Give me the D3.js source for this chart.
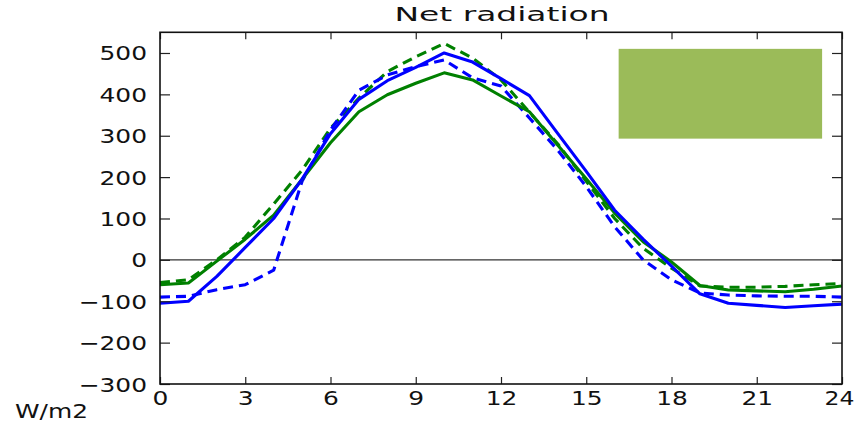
<!DOCTYPE html>
<html><head><meta charset="utf-8">
<script src="https://cdn.jsdelivr.net/npm/d3@7"></script>
<style>body{margin:0;background:#fff}svg{display:block}text{font-family:"DejaVu Sans",sans-serif;fill:#111}</style>
</head><body><svg id="c" width="854" height="422"></svg>
<script>
const hours = d3.range(0, 25);
const blueSolid  = [-105,-100,-40,30,100,195,305,388,433,465,500,478,438,397,305,214,120,50,-15,-82,-105,-110,-115,-111,-107];
const blueDashed = [-90,-88,-72,-60,-25,190,314,410,447,467,483,440,420,343,265,177,80,0,-48,-80,-85,-87,-88,-88,-90];
const greenSolid = [-60,-56,-3,50,108,195,283,358,399,427,452,435,396,358,277,196,113,44,-5,-62,-73,-75,-77,-71,-63];
const greenDashed= [-55,-48,0,55,135,217,318,391,455,491,523,488,435,357,280,190,100,28,-20,-63,-66,-66,-64,-60,-57];
const xTicks = [0,3,6,9,12,15,18,21,24];
const yTicks = [-300,-200,-100,0,100,200,300,400,500];
const legendBox = {x0:16.14, x1:23.3, y0:293, y1:510};
const title = "Net radiation";
const unitLabel = "W/m2";

const svg = d3.select("#c");
const L=160, R=842, T=32.3, B=384;
const x = d3.scaleLinear().domain([0,24]).range([L,R]);
const y = d3.scaleLinear().domain([-300,550]).range([B,T]);
const FS = 19.6;

svg.append("rect").attr("x", x(legendBox.x0)).attr("y", y(legendBox.y1))
  .attr("width", x(legendBox.x1)-x(legendBox.x0)).attr("height", y(legendBox.y0)-y(legendBox.y1))
  .attr("fill", "#9bbb59");

svg.append("line").attr("x1", L).attr("x2", R).attr("y1", y(0)).attr("y2", y(0))
  .attr("stroke", "#333").attr("stroke-width", 1.3);

const line = d3.line().x((d,i)=>x(hours[i])).y(d=>y(d));
const series = [
  {v: greenDashed, c:"#008000", dash:"10,6"},
  {v: blueDashed, c:"#0000ff", dash:"10,6"},
  {v: greenSolid, c:"#008000", dash:null},
  {v: blueSolid, c:"#0000ff", dash:null}
];
series.forEach(s=>{
  svg.append("path").datum(s.v).attr("d", line).attr("fill","none")
    .attr("stroke", s.c).attr("stroke-width", 3.1).attr("stroke-linejoin","round")
    .attr("stroke-dasharray", s.dash);
});

const fmt = d3.format("");
const gL = svg.append("g").attr("transform",`translate(${L},0)`)
  .call(d3.axisLeft(y).tickValues(yTicks).tickSize(-10).tickFormat(fmt));
const gR = svg.append("g").attr("transform",`translate(${R},0)`)
  .call(d3.axisRight(y).tickValues(yTicks).tickSize(-10).tickFormat(""));
const gB = svg.append("g").attr("transform",`translate(0,${B})`)
  .call(d3.axisBottom(x).tickValues(xTicks).tickSize(-7).tickFormat(fmt));
const gT = svg.append("g").attr("transform",`translate(0,${T})`)
  .call(d3.axisTop(x).tickValues(xTicks).tickSize(-7).tickFormat(""));
[gL,gR,gB,gT].forEach(g=>{
  g.select(".domain").remove();
  g.selectAll(".tick line").attr("stroke","#222").attr("stroke-width",1.2);
});
gL.selectAll(".tick text").attr("x",null).attr("dy",null)
  .attr("transform","translate(-13,7) scale(1.27,1)")
  .style("font-size",FS+"px").style("font-family","DejaVu Sans").attr("fill","#111");
gB.selectAll(".tick text").attr("y",null).attr("dy",null)
  .attr("transform",d=> d===24 ? "translate(-3,21) scale(1.2,1)" : "translate(0,21) scale(1.27,1)")
  .style("font-size",FS+"px").style("font-family","DejaVu Sans").attr("fill","#111");

svg.append("rect").attr("x",L).attr("y",T).attr("width",R-L).attr("height",B-T)
  .attr("fill","none").attr("stroke","#111").attr("stroke-width",1.6);

svg.append("text").attr("x",502).attr("y",21).attr("text-anchor","middle")
  .attr("textLength",215).attr("lengthAdjust","spacingAndGlyphs")
  .style("font-size","19.5px").text(title);
svg.append("text").attr("transform","translate(15,418) scale(1.27,1)")
  .style("font-size",FS+"px").text(unitLabel);
</script></body></html>
